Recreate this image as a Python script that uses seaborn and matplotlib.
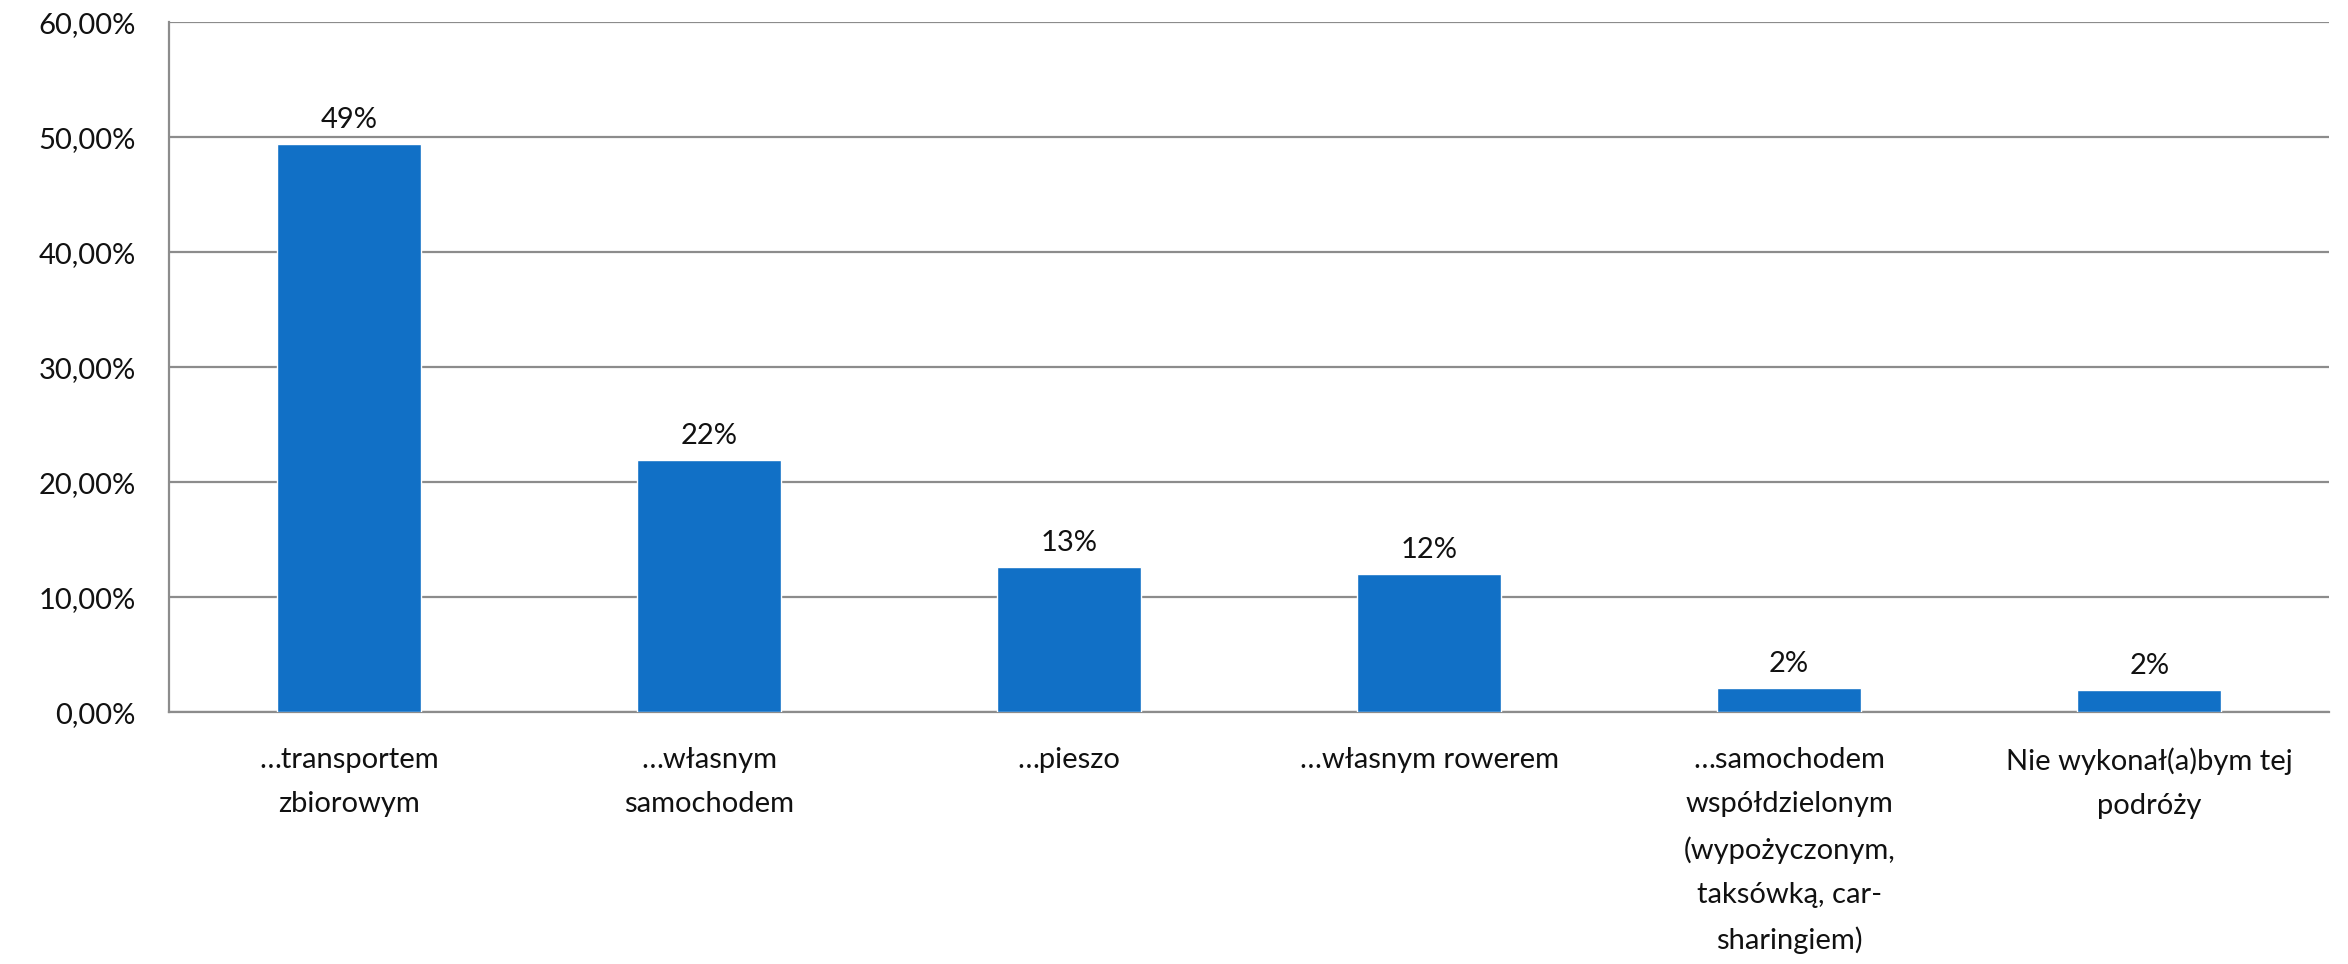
import matplotlib
matplotlib.use('Agg')
import matplotlib.pyplot as plt
from matplotlib.ticker import FuncFormatter
import seaborn as sns
import pandas as pd

# ─────────────────────────────────────────────
# Data
# ─────────────────────────────────────────────
categories = [
    "…transportem\nzbiorowym",
    "…własnym\nsamochodem",
    "…pieszo",
    "…własnym rowerem",
    "…samochodem\nwspółdzielonym\n(wypożyczonym,\ntaksówką, car-\nsharingiem)",
    "Nie wykonał(a)bym tej\npodróży",
]
shares = [49.4, 21.9, 12.6, 12.0, 2.1, 1.95]
y_ticks = [0, 10, 20, 30, 40, 50, 60]

BAR_COLOR = '#1170C6'
GRID_COLOR = '#8C8C8C'
FONT_SIZE = 21

df = pd.DataFrame({'category': categories, 'share': shares})

sns.set_style('white')
plt.rcParams['font.family'] = ['Lato', 'DejaVu Sans']

fig, ax = plt.subplots(figsize=(23.48, 9.64), dpi=100)
fig.subplots_adjust(left=0.072, right=0.992, top=0.977, bottom=0.261)

sns.barplot(data=df, x='category', y='share', color=BAR_COLOR,
            width=0.4, saturation=1, ax=ax, zorder=3)

# value labels above bars
for patch, v in zip(ax.patches, shares):
    ax.annotate(f'{round(v)}%',
                (patch.get_x() + patch.get_width() / 2, patch.get_height()),
                xytext=(0, 8), textcoords='offset points',
                ha='center', va='bottom', fontsize=FONT_SIZE, color='#111111')

ax.set_ylim(0, 60)
ax.set_yticks(y_ticks)
ax.yaxis.set_major_formatter(FuncFormatter(lambda v, _: f'{v:.2f}%'.replace('.', ',')))
ax.set_xlim(-0.5, len(categories) - 0.5)

ax.yaxis.grid(True, color=GRID_COLOR, linewidth=1.6, zorder=0)
ax.set_axisbelow(True)
for side in ['top', 'right']:
    ax.spines[side].set_visible(False)
for side in ['left', 'bottom']:
    ax.spines[side].set_color(GRID_COLOR)
    ax.spines[side].set_linewidth(1.6)

ax.tick_params(axis='y', length=0, pad=24, labelsize=FONT_SIZE, labelcolor='#111111')
ax.tick_params(axis='x', length=0, pad=25, labelsize=FONT_SIZE, labelcolor='#111111')
for lbl in ax.get_xticklabels():
    lbl.set_linespacing(1.85)
    lbl.set_ha('center')

ax.set_xlabel('')
ax.set_ylabel('')

plt.savefig('out.png', dpi=100)
plt.close()
